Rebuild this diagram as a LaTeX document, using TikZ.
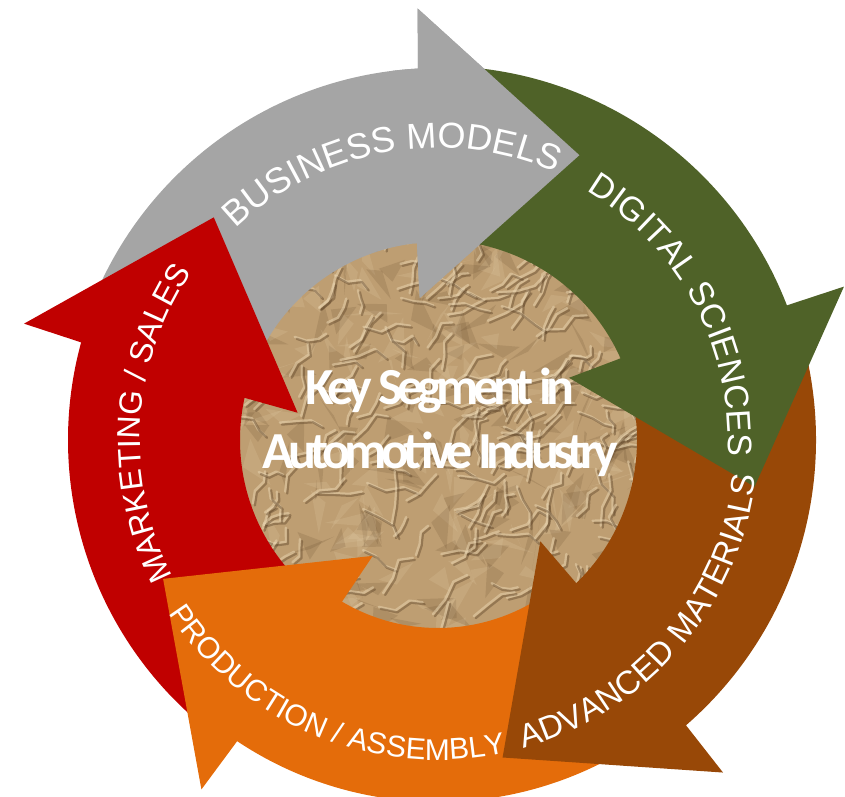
\documentclass[tikz,border=0pt]{standalone}
\usepackage{fontspec}
\usepackage{tikz}
\usetikzlibrary{decorations.text}
\newfontfamily\labelfont{Liberation Sans}
\newfontfamily\keyfont[LetterSpace=-11]{Carlito}

\definecolor{bizgray}{RGB}{165,165,165}
\definecolor{digigreen}{RGB}{79,98,40}
\definecolor{matbrown}{RGB}{152,72,7}
\definecolor{prodorange}{RGB}{228,108,10}
\definecolor{salesred}{RGB}{192,0,0}
\definecolor{paper}{RGB}{190,158,114}
\definecolor{paperdark}{RGB}{92,66,38}
\definecolor{paperlight}{RGB}{234,214,178}

% colour, head angle, outer radius, inner radius
\newcommand{\segarrow}[4]{%
  \fill[#1] ({#2+67}:#3) arc[start angle={#2+67}, end angle={#2}, radius=#3]
    -- ({#2-0.4}:{#3+60}) -- ({#2-29.5}:{#3-54})
    -- ({#2+4.3}:{#4-55}) -- ({#2+3}:#4)
    arc[start angle={#2+3}, end angle={#2+67}, radius=#4] -- cycle;}

\begin{document}
\begin{tikzpicture}[x=1pt,y=1pt,
  crease/.style={paperdark, line width=2.2, opacity=.42, line join=round, line cap=round},
  fold/.style={paperlight, line width=2.4, opacity=.5, line join=round, line cap=round},
  facet/.style={opacity=.16},
  arclabel/.style 2 args={decorate, decoration={text along path, text align=center,
    text color=white, text={|\labelfont\fontsize{#1}{#1}\selectfont|#2}}},
  keytext/.style={text=white, align=center, font=\keyfont\bfseries\fontsize{52}{64}\selectfont}]
\useasboundingbox (-438,-356) rectangle (407,440);

% crumpled paper in the middle
\begin{scope}
\clip (0,0) circle[radius=202];
\fill[paper] (0,0) circle[radius=202];
\pgfmathsetseed{11}
\foreach \i in {1,...,160}{
  \pgfmathsetmacro{\cx}{210*rand}
  \pgfmathsetmacro{\cy}{210*rand}
  \fill[facet, paperdark] (\cx,\cy) -- ++({360*rnd}:{15+20*rnd}) -- ++({360*rnd}:{15+20*rnd}) -- cycle;
  \fill[facet, paperlight] ({\cx+20*rand},{\cy+20*rand}) -- ++({360*rnd}:{15+20*rnd}) -- ++({360*rnd}:{15+20*rnd}) -- cycle;
}
\foreach \i in {1,...,260}{
  \pgfmathsetmacro{\cx}{205*rand}
  \pgfmathsetmacro{\cy}{205*rand}
  \pgfmathsetmacro{\ca}{30+60*rand}
  \pgfmathsetmacro{\cb}{\ca+55*rand}
  \pgfmathsetmacro{\cc}{\ca+55*rand}
  \pgfmathsetmacro{\cl}{8+12*rnd}
  \draw[fold] ({\cx-2},{\cy+2}) -- ++(\ca:\cl) -- ++(\cb:\cl) -- ++(\cc:{0.8*\cl});
  \draw[crease] (\cx,\cy) -- ++(\ca:\cl) -- ++(\cb:\cl) -- ++(\cc:{0.8*\cl});
}
\end{scope}

% the five arrows
\segarrow{bizgray}{93.1}{372}{198}
\segarrow{salesred}{164.7}{370}{198}
\segarrow{prodorange}{-123.7}{362}{188}
\segarrow{matbrown}{-49}{378}{199}
\segarrow{digigreen}{21.1}{374}{200}
\begin{scope}
\clip (0,0) -- (97:500) -- (50:500) -- cycle;
\segarrow{bizgray}{93.1}{372}{198}
\end{scope}

% labels
\path[arclabel={36}{BUSINESS MODELS}] (140:292) arc[start angle=140, end angle=60, radius=292];
\path[arclabel={34}{DIGITAL SCIENCES}] (68:290) arc[start angle=68, end angle=-12, radius=290];
\path[arclabel={33}{ADVANCED MATERIALS}] (-80.5:320) arc[start angle=-80.5, end angle=-0.5, radius=320];
\path[arclabel={30}{PRODUCTION / ASSEMBLY}] (-152.5:320) arc[start angle=-152.5, end angle=-72.5, radius=320];
\path[arclabel={32}{MARKETING / SALES}] (216.5:298) arc[start angle=216.5, end angle=136.5, radius=298];

\node[keytext] (key) at (2,18) {Key Segment in\\Automotive Industry};
\end{tikzpicture}
\end{document}
